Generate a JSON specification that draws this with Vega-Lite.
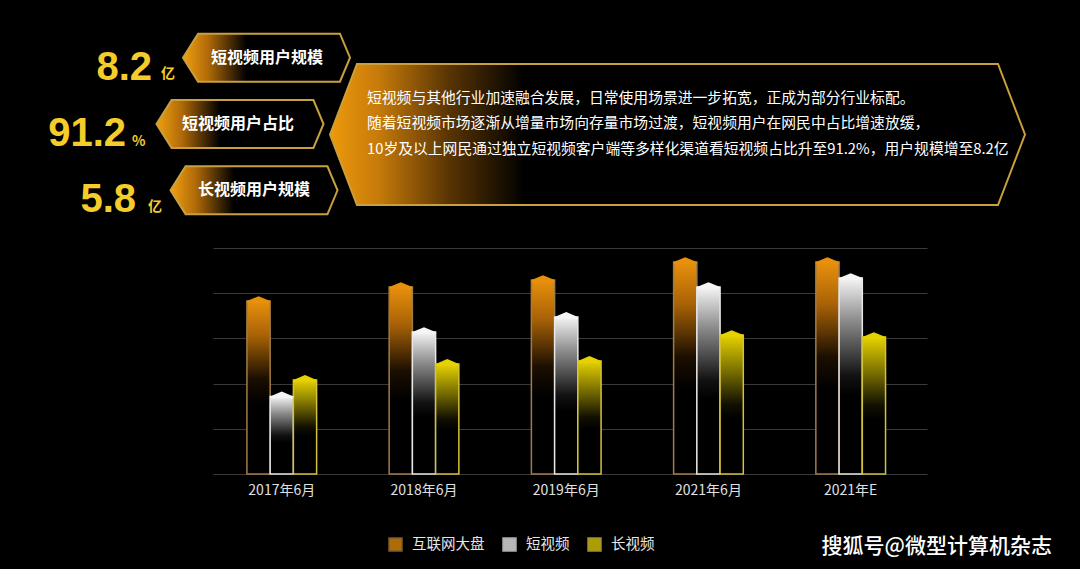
{
  "$schema": "https://vega.github.io/schema/vega-lite/v6.json",
  "background": "#000000",
  "padding": {"left": 0, "top": 0, "right": 0, "bottom": 12},
  "spacing": 0,
  "config": {
    "view": {"stroke": null},
    "font": "Noto Sans CJK SC"
  },
  "title": {
    "text": "搜狐号@微型计算机杂志",
    "orient": "bottom",
    "anchor": "end",
    "color": "#ffffff",
    "fontSize": 21,
    "fontWeight": 500,
    "font": "Noto Sans CJK SC",
    "offset": 0,
    "dx": -28,
    "dy": -18
  },
  "resolve": {"legend": {"fill": "independent", "stroke": "independent"}},
  "vconcat": [
    {
      "width": 867,
      "height": 248,
      "data": {"values": [
        {"label": "短视频用户规模", "num": "8.2", "unit": "亿"},
        {"label": "短视频用户占比", "num": "91.2", "unit": "%"},
        {"label": "长视频用户规模", "num": "5.8", "unit": "亿"}
      ]},
      "encoding": {
        "y": {"field": "label", "type": "nominal", "sort": ["短视频用户规模", "短视频用户占比", "长视频用户规模"], "scale": {"type": "point", "padding": 0.87}, "axis": null}
      },
      "layer": [
        {
          "transform": [{"filter": "datum.label === '短视频用户占比'"}],
          "mark": {"type": "point", "shape": "M-4.929,0.149L-4.546,-0.851L4.546,-0.851L4.929,0.149L4.546,1.149L-4.546,1.149Z", "size": 19881, "filled": true, "opacity": 1, "fill": {"gradient": "linear", "x1": 0, "y1": 0, "x2": 1, "y2": 0, "stops": [{"offset": 0, "color": "#EE9A0C"}, {"offset": 0.07, "color": "#C67A0A"}, {"offset": 0.17, "color": "#5A3503"}, {"offset": 0.28, "color": "#000000"}]}, "stroke": "#C9A03C", "strokeWidth": 2},
          "encoding": {"x": {"datum": 677.5, "type": "quantitative", "scale": {"domain": [213, 1080], "nice": false, "zero": false}, "axis": null}}
        },
        {
          "data": {"values": [
            {"text": "短视频与其他行业加速融合发展，日常使用场景进一步拓宽，正成为部分行业标配。\n随着短视频市场逐渐从增量市场向存量市场过渡，短视频用户在网民中占比增速放缓，\n10岁及以上网民通过独立短视频客户端等多样化渠道看短视频占比升至91.2%，用户规模增至8.2亿"}
          ]},
          "mark": {"type": "text", "align": "left", "baseline": "middle", "dy": -25.5, "color": "#ffffff", "fontSize": 14.8, "lineBreak": "\n", "lineHeight": 25.5},
          "encoding": {
            "x": {"datum": 367, "type": "quantitative", "scale": {"domain": [213, 1080], "nice": false, "zero": false}, "axis": null},
            "y": {"datum": "短视频用户占比", "type": "nominal"},
            "text": {"field": "text"}
          }
        },
        {
          "transform": [{"filter": "datum.label === '短视频用户规模'"}],
          "layer": [
            {"mark": {"type": "point", "shape": "M-3.48,0L-2.85,-1L3.06,-1L3.48,0L3.06,1L-2.85,1Z", "size": 2304, "filled": true, "opacity": 1, "fill": {"gradient": "linear", "x1": 0, "y1": 0, "x2": 1, "y2": 0, "stops": [{"offset": 0, "color": "#F0A010"}, {"offset": 0.15, "color": "#B06A08"}, {"offset": 0.38, "color": "#000000"}]}, "stroke": "#C9A040", "strokeWidth": 2},
             "encoding": {"x": {"datum": 266.5, "type": "quantitative", "scale": {"domain": [213, 1080], "nice": false, "zero": false}, "axis": null}}},
            {"mark": {"type": "text", "color": "#ffffff", "fontSize": 16, "fontWeight": "bold", "baseline": "middle"},
             "encoding": {"x": {"datum": 267, "type": "quantitative", "scale": {"domain": [213, 1080], "nice": false, "zero": false}, "axis": null}, "text": {"field": "label"}}},
            {"mark": {"type": "text", "align": "right", "baseline": "alphabetic", "dy": 22, "fontSize": 40, "fontWeight": "bold", "font": "Liberation Sans", "color": "#F5CD2A"},
             "encoding": {"x": {"datum": 152, "type": "quantitative", "scale": {"domain": [213, 1080], "nice": false, "zero": false}, "axis": null}, "text": {"field": "num"}}},
            {"mark": {"type": "text", "align": "left", "baseline": "alphabetic", "dy": 20, "fontSize": 14, "fontWeight": "bold", "color": "#F5CD2A"},
             "encoding": {"x": {"datum": 161, "type": "quantitative", "scale": {"domain": [213, 1080], "nice": false, "zero": false}, "axis": null}, "text": {"field": "unit"}}}
          ]
        },
        {
          "transform": [{"filter": "datum.label === '短视频用户占比'"}],
          "layer": [
            {"mark": {"type": "point", "shape": "M-3.48,0L-2.85,-1L3.06,-1L3.48,0L3.06,1L-2.85,1Z", "size": 2304, "filled": true, "opacity": 1, "fill": {"gradient": "linear", "x1": 0, "y1": 0, "x2": 1, "y2": 0, "stops": [{"offset": 0, "color": "#F0A010"}, {"offset": 0.15, "color": "#B06A08"}, {"offset": 0.38, "color": "#000000"}]}, "stroke": "#C9A040", "strokeWidth": 2},
             "encoding": {"x": {"datum": 240, "type": "quantitative", "scale": {"domain": [213, 1080], "nice": false, "zero": false}, "axis": null}}},
            {"mark": {"type": "text", "color": "#ffffff", "fontSize": 16, "fontWeight": "bold", "baseline": "middle"},
             "encoding": {"x": {"datum": 238, "type": "quantitative", "scale": {"domain": [213, 1080], "nice": false, "zero": false}, "axis": null}, "text": {"field": "label"}}},
            {"mark": {"type": "text", "align": "right", "baseline": "alphabetic", "dy": 22, "fontSize": 40, "fontWeight": "bold", "font": "Liberation Sans", "color": "#F5CD2A"},
             "encoding": {"x": {"datum": 126, "type": "quantitative", "scale": {"domain": [213, 1080], "nice": false, "zero": false}, "axis": null}, "text": {"field": "num"}}},
            {"mark": {"type": "text", "align": "left", "baseline": "alphabetic", "dy": 22, "fontSize": 14, "fontWeight": "bold", "color": "#F5CD2A"},
             "encoding": {"x": {"datum": 132, "type": "quantitative", "scale": {"domain": [213, 1080], "nice": false, "zero": false}, "axis": null}, "text": {"field": "unit"}}}
          ]
        },
        {
          "transform": [{"filter": "datum.label === '长视频用户规模'"}],
          "layer": [
            {"mark": {"type": "point", "shape": "M-3.48,0L-2.85,-1L3.06,-1L3.48,0L3.06,1L-2.85,1Z", "size": 2304, "filled": true, "opacity": 1, "fill": {"gradient": "linear", "x1": 0, "y1": 0, "x2": 1, "y2": 0, "stops": [{"offset": 0, "color": "#F0A010"}, {"offset": 0.15, "color": "#B06A08"}, {"offset": 0.38, "color": "#000000"}]}, "stroke": "#C9A040", "strokeWidth": 2},
             "encoding": {"x": {"datum": 254, "type": "quantitative", "scale": {"domain": [213, 1080], "nice": false, "zero": false}, "axis": null}}},
            {"mark": {"type": "text", "color": "#ffffff", "fontSize": 16, "fontWeight": "bold", "baseline": "middle"},
             "encoding": {"x": {"datum": 254, "type": "quantitative", "scale": {"domain": [213, 1080], "nice": false, "zero": false}, "axis": null}, "text": {"field": "label"}}},
            {"mark": {"type": "text", "align": "right", "baseline": "alphabetic", "dy": 22, "fontSize": 40, "fontWeight": "bold", "font": "Liberation Sans", "color": "#F5CD2A"},
             "encoding": {"x": {"datum": 136, "type": "quantitative", "scale": {"domain": [213, 1080], "nice": false, "zero": false}, "axis": null}, "text": {"field": "num"}}},
            {"mark": {"type": "text", "align": "left", "baseline": "alphabetic", "dy": 21, "fontSize": 14, "fontWeight": "bold", "color": "#F5CD2A"},
             "encoding": {"x": {"datum": 148, "type": "quantitative", "scale": {"domain": [213, 1080], "nice": false, "zero": false}, "axis": null}, "text": {"field": "unit"}}}
          ]
        }
      ]
    },
    {
      "width": 714,
      "height": 226,
      "data": {"values": [
        {"period": "2017年6月", "series": "互联网大盘", "value": 7.65},
        {"period": "2017年6月", "series": "短视频", "value": 3.43},
        {"period": "2017年6月", "series": "长视频", "value": 4.16},
        {"period": "2018年6月", "series": "互联网大盘", "value": 8.27},
        {"period": "2018年6月", "series": "短视频", "value": 6.28},
        {"period": "2018年6月", "series": "长视频", "value": 4.87},
        {"period": "2019年6月", "series": "互联网大盘", "value": 8.58},
        {"period": "2019年6月", "series": "短视频", "value": 6.95},
        {"period": "2019年6月", "series": "长视频", "value": 5.0},
        {"period": "2021年6月", "series": "互联网大盘", "value": 9.38},
        {"period": "2021年6月", "series": "短视频", "value": 8.27},
        {"period": "2021年6月", "series": "长视频", "value": 6.15},
        {"period": "2021年E", "series": "互联网大盘", "value": 9.38},
        {"period": "2021年E", "series": "短视频", "value": 8.67},
        {"period": "2021年E", "series": "长视频", "value": 6.06}
      ]},
      "encoding": {
        "x": {"field": "period", "type": "nominal", "sort": ["2017年6月", "2018年6月", "2019年6月", "2021年6月", "2021年E"],
              "scale": {"paddingInner": 0.51, "paddingOuter": 0.265, "align": 0.45},
              "axis": {"title": null, "labelColor": "#e0e0e0", "labelFontSize": 14, "labelPadding": 9, "labelAngle": 0, "ticks": false, "domain": false, "grid": false}},
        "xOffset": {"field": "series", "type": "nominal", "sort": ["互联网大盘", "短视频", "长视频"], "scale": {"paddingInner": 0, "paddingOuter": 0}},
        "y": {"field": "value", "type": "quantitative", "scale": {"domain": [0, 10], "nice": false},
              "axis": {"title": null, "labels": false, "ticks": false, "domain": false, "values": [0, 2, 4, 6, 8, 10], "grid": true, "gridColor": "#3a3a3a", "gridWidth": 1, "minExtent": 213, "maxExtent": 213}}
      },
      "layer": [
        {
          "mark": {"type": "bar", "strokeWidth": 1.5},
          "encoding": {
            "fill": {
              "condition": [
                {"test": "datum.series === '互联网大盘'", "value": {"gradient": "linear", "x1": 0, "y1": 0, "x2": 0, "y2": 1, "stops": [{"offset": 0, "color": "#E8900C"}, {"offset": 0.2, "color": "#A86206"}, {"offset": 0.45, "color": "#1A0E00"}, {"offset": 0.6, "color": "#000000"}]}},
                {"test": "datum.series === '短视频'", "value": {"gradient": "linear", "x1": 0, "y1": 0, "x2": 0, "y2": 1, "stops": [{"offset": 0, "color": "#F5F5F5"}, {"offset": 0.22, "color": "#8A8A8A"}, {"offset": 0.5, "color": "#111111"}, {"offset": 0.6, "color": "#000000"}]}}
              ],
              "value": {"gradient": "linear", "x1": 0, "y1": 0, "x2": 0, "y2": 1, "stops": [{"offset": 0, "color": "#E6D200"}, {"offset": 0.22, "color": "#8A7E00"}, {"offset": 0.5, "color": "#111000"}, {"offset": 0.6, "color": "#000000"}]}
            },
            "stroke": {"field": "series", "type": "nominal", "sort": ["互联网大盘", "短视频", "长视频"],
                       "scale": {"domain": ["互联网大盘", "短视频", "长视频"], "range": ["#A27C45", "#E8E8E8", "#D4C23A"]},
                       "legend": {"title": null, "orient": "none", "legendX": 175, "legendY": 289, "direction": "horizontal", "symbolType": "square", "symbolSize": 169, "symbolStrokeWidth": 1.5, "labelFontSize": 14.5, "labelColor": "#e6e6e6", "labelOffset": 9, "columnPadding": 15, "padding": 0, "symbolOpacity": 0.75}}
          }
        },
        {
          "mark": {"type": "point", "shape": "M-1,0.15L-1,0L0,-0.42L1,0L1,0.15Z", "size": 540, "filled": true, "opacity": 1, "strokeWidth": 0},
          "encoding": {
            "fill": {"field": "series", "type": "nominal", "sort": ["互联网大盘", "短视频", "长视频"],
                     "scale": {"domain": ["互联网大盘", "短视频", "长视频"], "range": ["#E8900C", "#F5F5F5", "#E6D200"]},
                     "legend": {"title": null, "orient": "none", "legendX": 175, "legendY": 289, "direction": "horizontal", "symbolType": "square", "symbolSize": 169, "symbolStrokeWidth": 1.5, "labelFontSize": 14.5, "labelColor": "#e6e6e6", "labelOffset": 9, "columnPadding": 15, "padding": 0, "symbolOpacity": 0.75}}
          }
        }
      ]
    }
  ]
}
